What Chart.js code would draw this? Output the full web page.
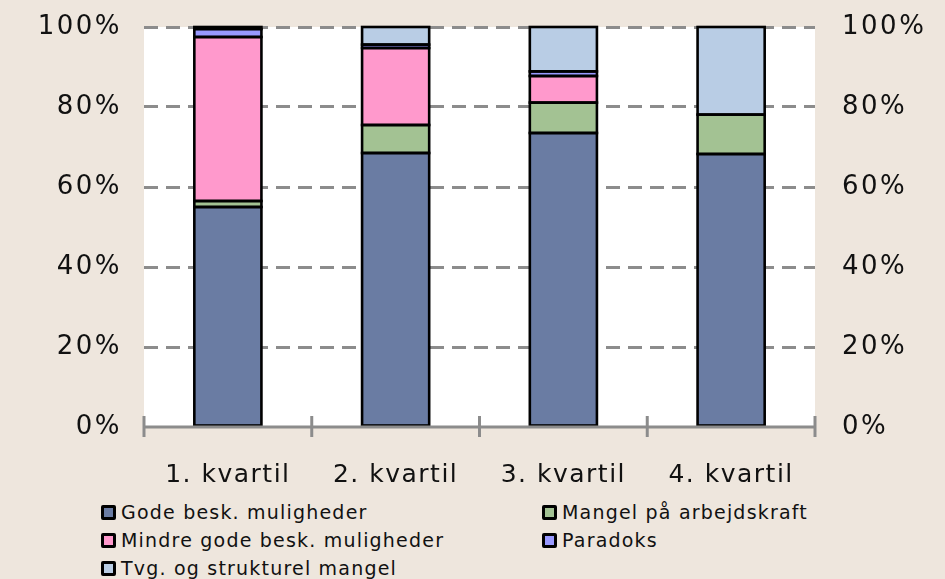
<!DOCTYPE html>
<html>
<head>
<meta charset="utf-8">
<script src="https://cdn.jsdelivr.net/npm/chart.js@4.4.0/dist/chart.umd.min.js"></script>
<style>
html, body { margin: 0; padding: 0; background: #eee6dd; }
#wrap { position: relative; width: 945px; height: 579px; overflow: hidden; }
#chart { position: absolute; left: 0; top: 0; }
#legend { position: absolute; left: 101px; top: 498px; display: grid; grid-template-columns: 441px auto; }
.item { display: flex; align-items: center; height: 28px; font: 19px "DejaVu Sans"; letter-spacing: 1.2px; color: #111; white-space: nowrap; }
.box { width: 15px; height: 15px; box-sizing: border-box; border: 3px solid #000; border-radius: 2px; margin-right: 5px; }
</style>
</head>
<body>
<div id="wrap">
  <canvas id="chart" width="945" height="490"></canvas>
  <div id="legend"></div>
</div>
<script>
const categories = ['1. kvartil', '2. kvartil', '3. kvartil', '4. kvartil'];
const seriesNames = ['Gode besk. muligheder', 'Mangel på arbejdskraft', 'Mindre gode besk. muligheder', 'Paradoks', 'Tvg. og strukturel mangel'];
const gode = [55, 68.5, 73.5, 68.25];
const mangel = [1.5, 7, 7.6, 9.85];
const mindre = [41, 19.25, 6.65, 0];
const paradoks = [2, 0.85, 1.15, 0];
const tvg = [0.5, 4.4, 11.1, 21.9];
const colors = ['#6a7ca3', '#a3c293', '#ff99cc', '#9999ff', '#b9cde5'];

const values = [gode, mangel, mindre, paradoks, tvg];
const datasets = values.map(function (v, i) {
    return {
        label: seriesNames[i],
        data: v,
        backgroundColor: colors[i],
        borderWidth: 0,
        barPercentage: 0.4,
        categoryPercentage: 1,
        yAxisID: 'y'
    };
});

// white plot area
const plotBg = {
    id: 'plotBg',
    beforeDraw(chart) {
        const a = chart.chartArea;
        chart.ctx.save();
        chart.ctx.fillStyle = '#ffffff';
        chart.ctx.fillRect(a.left, a.top, a.right - a.left, a.bottom - a.top);
        chart.ctx.restore();
    }
};

// black outline round each segment, centred on its edges
const barOutline = {
    id: 'barOutline',
    afterDatasetsDraw(chart) {
        const ctx = chart.ctx;
        ctx.save();
        ctx.strokeStyle = '#000';
        ctx.lineWidth = 2.6;
        chart.data.datasets.forEach(function (ds, i) {
            chart.getDatasetMeta(i).data.forEach(function (bar, j) {
                if (!ds.data[j]) return;
                const p = bar.getProps(['x', 'y', 'base', 'width'], true);
                ctx.strokeRect(p.x - p.width / 2, Math.min(p.y, p.base), p.width, Math.abs(p.base - p.y));
            });
        });
        ctx.restore();
    }
};

// tick marks across the x axis at category borders
const axisTicks = {
    id: 'axisTicks',
    afterDraw(chart) {
        const x = chart.scales.x;
        const y0 = chart.chartArea.bottom;
        const ctx = chart.ctx;
        const step = (x.right - x.left) / categories.length;
        ctx.save();
        ctx.strokeStyle = '#8c8c8c';
        ctx.lineWidth = 3;
        for (let i = 0; i <= categories.length; i++) {
            const px = x.left + i * step;
            ctx.beginPath();
            ctx.moveTo(px, y0 - 11);
            ctx.lineTo(px, y0 + 10);
            ctx.stroke();
        }
        ctx.beginPath();
        ctx.moveTo(x.left, y0);
        ctx.lineTo(x.right, y0);
        ctx.stroke();
        ctx.restore();
    }
};

// wider letter spacing for tick labels
const spacing = {
    id: 'spacing',
    beforeDraw(chart) {
        Object.values(chart.scales).forEach(function (s) {
            if (s._spaced) return;
            const draw = s.drawLabels;
            s.drawLabels = function (area) {
                const old = this.ctx.letterSpacing;
                this.ctx.letterSpacing = this.axis === 'x' ? '1.5px' : '2.5px';
                draw.call(this, area);
                this.ctx.letterSpacing = old;
            };
            s._spaced = true;
        });
    }
};

const tickFont = { family: 'DejaVu Sans', size: 25 };
const yFont = { family: 'DejaVu Sans', size: 26 };
const pct = function (v) { return v + '%'; };
const ctx = document.getElementById('chart').getContext('2d');
const chart = new Chart(ctx, {
    type: 'bar',
    data: { labels: categories, datasets: datasets },
    options: {
        responsive: false,
        animation: false,
        layout: { padding: { top: 27, left: 0, right: 0, bottom: 0 } },
        plugins: { legend: { display: false }, tooltip: { enabled: false } },
        scales: {
            x: {
                stacked: true,
                grid: { display: false, drawTicks: false },
                border: { display: false },
                ticks: { font: tickFont, color: '#111', padding: 33 },
                afterFit: function (s) { s.height = 63; }
            },
            y: {
                stacked: true,
                position: 'left',
                min: 0,
                max: 100,
                grid: {
                    color: function (c) { return c.tick.value === 0 ? 'rgba(0,0,0,0)' : '#8c8c8c'; },
                    lineWidth: 3,
                    drawTicks: true,
                    tickLength: 22,
                    tickColor: 'rgba(0,0,0,0)'
                },
                border: { display: false, dash: [14, 8] },
                ticks: { stepSize: 20, font: yFont, color: '#111', padding: 0, callback: pct },
                afterFit: function (s) { s.width = 144; }
            },
            y2: {
                position: 'right',
                min: 0,
                max: 100,
                grid: { display: true, drawOnChartArea: false, drawTicks: true, tickLength: 27, color: 'rgba(0,0,0,0)' },
                border: { display: false },
                ticks: { stepSize: 20, font: yFont, color: '#111', padding: 0, callback: pct },
                afterFit: function (s) { s.width = 130; }
            }
        }
    },
    plugins: [plotBg, barOutline, axisTicks, spacing]
});

// legend in two columns, like the original
const legend = document.getElementById('legend');
seriesNames.forEach(function (name, i) {
    const item = document.createElement('div');
    item.className = 'item';
    const box = document.createElement('span');
    box.className = 'box';
    box.style.background = colors[i];
    item.appendChild(box);
    item.appendChild(document.createTextNode(name));
    legend.appendChild(item);
});
</script>
</body>
</html>
